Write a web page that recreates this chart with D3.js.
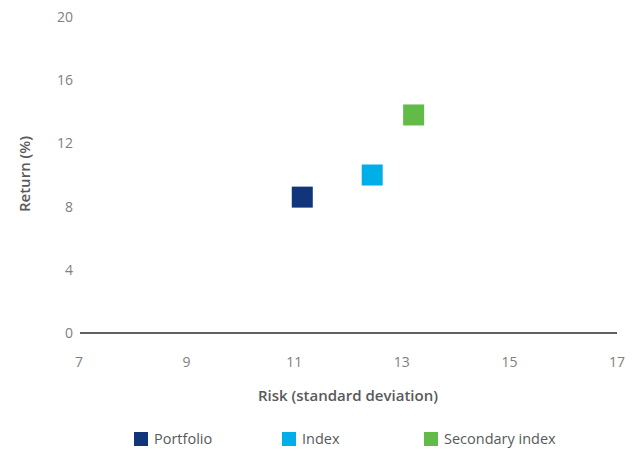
<!DOCTYPE html>
<html>
<head>
<meta charset="utf-8">
<script src="https://cdn.jsdelivr.net/npm/d3@7"></script>
<style>
  body { margin: 0; background: #fff; }
  svg { font-family: "Open Sans", Lato, sans-serif; }
</style>
</head>
<body>
<div id="chart"></div>
<script>
// data
const seriesNames = ['Portfolio', 'Index', 'Secondary index'];
const riskValues = [11.15, 12.45, 13.22];
const returnValues = [8.6, 10.0, 13.8];
const seriesColors = ['#10357a', '#00aee8', '#62bb46'];
const xTicks = [7, 9, 11, 13, 15, 17];
const yTicks = [0, 4, 8, 12, 16, 20];

const W = 635, H = 451;
const svg = d3.select('#chart').append('svg').attr('width', W).attr('height', H);

const x = d3.scaleLinear().domain([7, 17]).range([79, 617]);
const y = d3.scaleLinear().domain([0, 20]).range([333, 17]);

// y tick labels
svg.append('g').selectAll('text').data(yTicks).join('text')
  .attr('x', 73).attr('y', d => y(d)).attr('dy', '0.35em')
  .attr('text-anchor', 'end')
  .attr('font-size', 14).attr('fill', '#808080')
  .text(d => d);

// x tick labels
svg.append('g').selectAll('text').data(xTicks).join('text')
  .attr('x', d => x(d)).attr('y', 362).attr('dy', '0.35em')
  .attr('text-anchor', 'middle')
  .attr('font-size', 14).attr('fill', '#808080')
  .text(d => d);

// baseline
svg.append('line')
  .attr('x1', x(7) + 1).attr('x2', x(17))
  .attr('y1', y(0)).attr('y2', y(0))
  .attr('stroke', '#5f6066').attr('stroke-width', 2);

// axis titles
svg.append('text')
  .attr('x', 348).attr('y', 396).attr('dy', '0.35em')
  .attr('text-anchor', 'middle')
  .attr('font-size', 15).attr('font-weight', 600).attr('fill', '#58595b')
  .text('Risk (standard deviation)');

svg.append('text')
  .attr('transform', 'translate(25,174) rotate(-90)')
  .attr('dy', '0.35em')
  .attr('text-anchor', 'middle')
  .attr('font-size', 15).attr('font-weight', 600).attr('fill', '#58595b')
  .text('Return (%)');

// points
const sz = 21;
svg.append('g').selectAll('rect').data(seriesNames).join('rect')
  .attr('x', (d, i) => x(riskValues[i]) - sz / 2)
  .attr('y', (d, i) => y(returnValues[i]) - sz / 2)
  .attr('width', sz).attr('height', sz)
  .attr('fill', (d, i) => seriesColors[i]);

// legend
const legendX = [134, 282, 424];
const lg = svg.append('g').selectAll('g').data(seriesNames).join('g')
  .attr('transform', (d, i) => `translate(${legendX[i]},432)`);
lg.append('rect').attr('width', 14).attr('height', 14)
  .attr('fill', (d, i) => seriesColors[i]);
lg.append('text')
  .attr('x', 20).attr('y', 7).attr('dy', '0.35em')
  .attr('font-size', 14.5).attr('fill', '#58595b')
  .text(d => d);
</script>
</body>
</html>
